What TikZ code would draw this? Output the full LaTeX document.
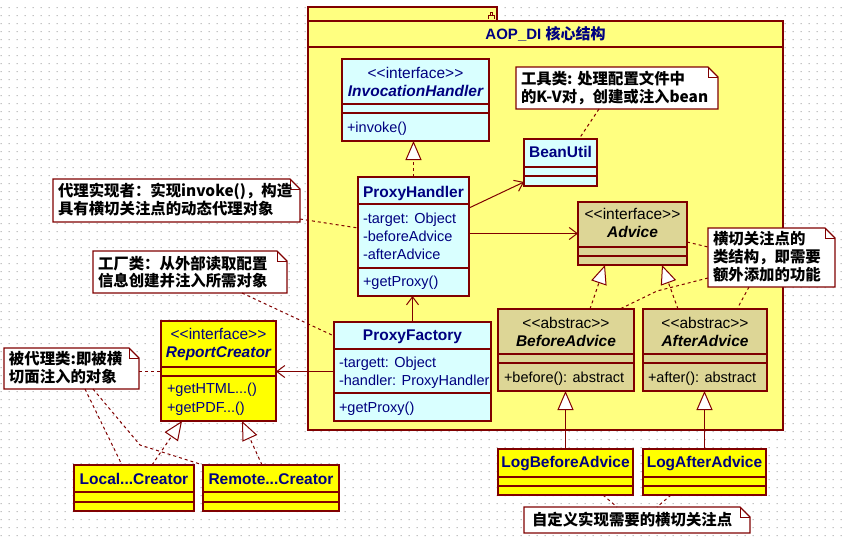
\documentclass[tikz,border=0pt]{standalone}
\usepackage{fontspec}
\setmainfont{Liberation Sans}
\newfontfamily\cjk{Noto Sans CJK SC}
\usetikzlibrary{arrows.meta,calc}

\definecolor{pkgfill}{RGB}{255,255,128}
\definecolor{cyanfill}{RGB}{217,255,255}
\definecolor{khaki}{RGB}{221,214,150}
\definecolor{ylw}{RGB}{255,255,0}
\definecolor{brd}{RGB}{128,0,0}
\definecolor{navy}{RGB}{0,0,128}
\definecolor{dotc}{RGB}{165,165,165}

\tikzset{
  every node/.style={inner sep=0pt, outer sep=0pt},
  box/.style={draw=brd, line width=1.2pt, fill=#1, anchor=north west},
  sep/.style={draw=brd, line width=1.2pt},
  nm/.style={font=\fontsize{15.5}{18}\selectfont\bfseries, text=#1, anchor=base},
  nm/.default=navy,
  nmi/.style={font=\fontsize{15.5}{18}\selectfont\bfseries\itshape, text=#1, anchor=base},
  nmi/.default=navy,
  stereo/.style={font=\fontsize{15.5}{18}\selectfont, text=#1, anchor=base},
  stereo/.default=navy,
  mem/.style={font=\fontsize{14.5}{18}\selectfont, text=#1, anchor=base west},
  mem/.default=navy,
  notetxt/.style={font=\cjk\bfseries\fontsize{15.4}{18}\selectfont, text=black, anchor=base west},
  assoc/.style={draw=brd, line width=1pt, -{Straight Barb[length=8pt,width=12pt]}},
  realize/.style={draw=brd, line width=1pt, dash pattern=on 3pt off 3pt,
    -{Triangle[length=19pt,width=16pt,fill=white]}},
  generalize/.style={draw=brd, line width=1pt, -{Triangle[length=19pt,width=16pt,fill=white]}},
  noteline/.style={draw=brd, line width=1pt, dash pattern=on 3pt off 3pt},
}

% class box: name, x1, y1, x2, y2, fill, first separator, second separator
\newcommand\classbox[8]{%
  \node[box=#6, minimum width={(#4-#2)*1pt}, minimum height={(#5-#3)*1pt}] (#1) at (#2,#3) {};
  \draw[sep] ([yshift=-#7pt]#1.north west) -- ([yshift=-#7pt]#1.north east);
  \draw[sep] ([yshift=-#8pt]#1.north west) -- ([yshift=-#8pt]#1.north east);
}
% note with folded corner: name, x1, y1, x2, y2
\newcommand\notebox[5]{%
  \node[anchor=north west, minimum width={(#4-#2)*1pt}, minimum height={(#5-#3)*1pt}] (#1) at (#2,#3) {};
  \filldraw[fill=white, draw=brd, line width=1.2pt]
    (#1.north west) -- ([xshift=-10pt]#1.north east) -- ([yshift=-10pt]#1.north east)
    -- (#1.south east) -- (#1.south west) -- cycle;
  \draw[brd, line width=1pt] ([xshift=-10pt]#1.north east) -- ([xshift=-10pt,yshift=-10pt]#1.north east)
    -- ([yshift=-10pt]#1.north east);
}

\begin{document}
\begin{tikzpicture}[x=1pt, y=-1pt]
\useasboundingbox (0,0) rectangle (849,544);
\fill[white] (0,0) rectangle (849,544);

% grid dots of the drawing canvas
\fill[dotc] \foreach \i in {0,...,105} { \foreach \j in {0,...,66} { (8*\i+0.5, 8*\j+7) rectangle ++(1,1) } };

% package frame
\node[box=pkgfill, minimum width=189pt, minimum height=14pt] (pkgtab) at (308,7) {};
\draw[brd, line width=0.8pt] (488,19) -- (488,15) -- (494,15) -- (494,19)
  (490,15) -- (490,12) -- (492,12) -- (492,15);
\node[box=pkgfill, minimum width=475pt, minimum height=409pt] (pkg) at (308,21) {};
\draw[sep] ([yshift=-26pt]pkg.north west) -- ([yshift=-26pt]pkg.north east);
\node[font=\fontsize{15}{18}\selectfont\bfseries, text=navy, anchor=base] (pkgtitle) at (545.5,39)
  {AOP\_DI {\cjk 核心结构}};

% classes
\classbox{ih}{342}{59}{489}{141}{cyanfill}{45}{54}
\node[stereo] (ih-s) at (415.5,78) {<{}<interface>{}>};
\node[nmi] (ih-n) at (415.5,96) {InvocationHandler};
\node[mem] (ih-o) at (347,132) {+invoke()};

\classbox{ph}{358}{177}{469}{296}{cyanfill}{27}{91}
\node[nm] (ph-n) at (413.5,197) {ProxyHandler};
\node[mem] (ph-a1) at (363,223) {-target: Object};
\node[mem] (ph-a2) at (363,241) {-beforeAdvice};
\node[mem] (ph-a3) at (363,259) {-afterAdvice};
\node[mem] (ph-o) at (363,286) {+getProxy()};

\classbox{bu}{524}{139}{597}{186}{cyanfill}{28}{37}
\node[nm] (bu-n) at (560.5,157) {BeanUtil};

\classbox{adv}{578}{202}{687}{265}{khaki}{45}{54}
\node[stereo=black] (adv-s) at (632.5,219) {<{}<interface>{}>};
\node[nmi=black] (adv-n) at (632.5,237) {Advice};

\classbox{ba}{498}{309}{634}{391}{khaki}{45}{54}
\node[stereo=black] (ba-s) at (566,328) {<{}<abstrac>{}>};
\node[nmi=black] (ba-n) at (566,346) {BeforeAdvice};
\node[mem=black] (ba-o) at (504,382) {+before(): abstract};

\classbox{aa}{643}{309}{767}{391}{khaki}{45}{54}
\node[stereo=black] (aa-s) at (705,328) {<{}<abstrac>{}>};
\node[nmi=black] (aa-n) at (705,346) {AfterAdvice};
\node[mem=black] (aa-o) at (648,382) {+after(): abstract};

\classbox{pf}{334}{322}{491}{421}{cyanfill}{27}{71}
\node[nm] (pf-n) at (412.5,340) {ProxyFactory};
\node[mem] (pf-a1) at (339,367) {-targett: Object};
\node[mem] (pf-a2) at (339,385) {-handler: ProxyHandler};
\node[mem] (pf-o) at (339,412) {+getProxy()};

\classbox{rc}{161}{321}{276}{421}{ylw}{46}{55}
\node[stereo] (rc-s) at (218.5,339) {<{}<interface>{}>};
\node[nmi] (rc-n) at (218.5,357) {ReportCreator};
\node[mem] (rc-o1) at (167,393) {+getHTML...()};
\node[mem] (rc-o2) at (167,412) {+getPDF...()};

\classbox{lc}{74}{465}{194}{511}{ylw}{27}{37}
\node[nm] (lc-n) at (134,484) {Local...Creator};
\classbox{rm}{203}{465}{339}{511}{ylw}{27}{37}
\node[nm] (rm-n) at (271,484) {Remote...Creator};

\classbox{lba}{498}{449}{633}{495}{ylw}{28}{37}
\node[nm] (lba-n) at (565.5,467) {LogBeforeAdvice};
\classbox{laa}{643}{449}{766}{495}{ylw}{28}{37}
\node[nm] (laa-n) at (704.5,467) {LogAfterAdvice};

% notes
\notebox{n1}{516}{67}{718}{109}
\node[notetxt] (n1-t1) at (521,84) {工具类: 处理配置文件中};
\node[notetxt] (n1-t2) at (521,102.5) {的K-V对，创建或注入bean};

\notebox{n2}{53}{179}{300}{222}
\node[notetxt] (n2-t1) at (58,196) {代理实现者：实现invoke()，构造};
\node[notetxt] (n2-t2) at (58,214) {具有横切关注点的动态代理对象};

\notebox{n3}{93}{251}{287}{293}
\node[notetxt] (n3-t1) at (98,269.5) {工厂类：从外部读取配置};
\node[notetxt] (n3-t2) at (98,286) {信息创建并注入所需对象};

\notebox{n4}{4}{348}{139}{389}
\node[notetxt] (n4-t1) at (9,364) {被代理类:即被横};
\node[notetxt] (n4-t2) at (9,382.5) {切面注入的对象};

\notebox{n5}{708}{228}{835}{287}
\node[notetxt] (n5-t1) at (713,244) {横切关注点的};
\node[notetxt] (n5-t2) at (713,262.5) {类结构，即需要};
\node[notetxt] (n5-t3) at (713,280.7) {额外添加的功能};

\notebox{n6}{524}{507}{750}{533}
\node[notetxt] (n6-t1) at (532,525.7) {自定义实现需要的横切关注点};

% relations between classes
\draw[realize] (ph.north) -- (ph.north |- ih.south);
\draw[assoc] ([yshift=-31pt]ph.north east) -- ([yshift=-43pt]bu.north west);
\draw[assoc] (adv.west -| ph.east) -- (adv.west);
\draw[assoc] (pf.north) -- (pf.north |- ph.south);
\draw[assoc] (pf.west) -- (pf.west -| rc.east);
\draw[realize] ([xshift=92pt]ba.north west) -- ([xshift=27pt]adv.south west);
\draw[realize] ([xshift=35pt]aa.north west) -- ([xshift=84pt]adv.south west);
\draw[generalize] (lba.north) -- (lba.north |- ba.south);
\draw[generalize] (laa.north) -- (laa.north |- aa.south);
\draw[realize] ([xshift=78pt]lc.north west) -- ([xshift=21pt]rc.south west);
\draw[realize] ([xshift=59pt]rm.north west) -- ([xshift=81pt]rc.south west);

% note attachments
\coordinate (bendA) at (140,445);
\coordinate (bendB) at (657,291);
\draw[noteline] ([xshift=83pt]n1.south west) -- ([xshift=55pt]bu.north west);
\draw[noteline] ([yshift=3pt]n2.south east) -- ([yshift=-51pt]ph.north west);
\draw[noteline] ([xshift=149pt]n3.south west) -- ([yshift=-14pt]pf.north west);
\draw[noteline] ([yshift=-23pt]n4.north east) -- ([yshift=-50pt]rc.north west);
\draw[noteline] ([xshift=81pt]n4.south west) -- ([xshift=48pt]lc.north west);
\draw[noteline] ([xshift=89pt]n4.south west) -- (bendA) -- (rm.north west);
\draw[noteline] ([yshift=-40pt]adv.north east) -- ([yshift=-19pt]n5.north west);
\draw[noteline] ([yshift=-50pt]n5.north west) -- (bendB) -- ([xshift=122pt]ba.north west);
\draw[noteline] ([xshift=41pt]n5.south west) -- ([xshift=94pt]aa.north west);
\draw[noteline] ([xshift=105pt]lba.south west) -- ([xshift=93pt]n6.north west);
\draw[noteline] ([xshift=28pt]laa.south west) -- ([xshift=133pt]n6.north west);
\end{tikzpicture}
\end{document}
